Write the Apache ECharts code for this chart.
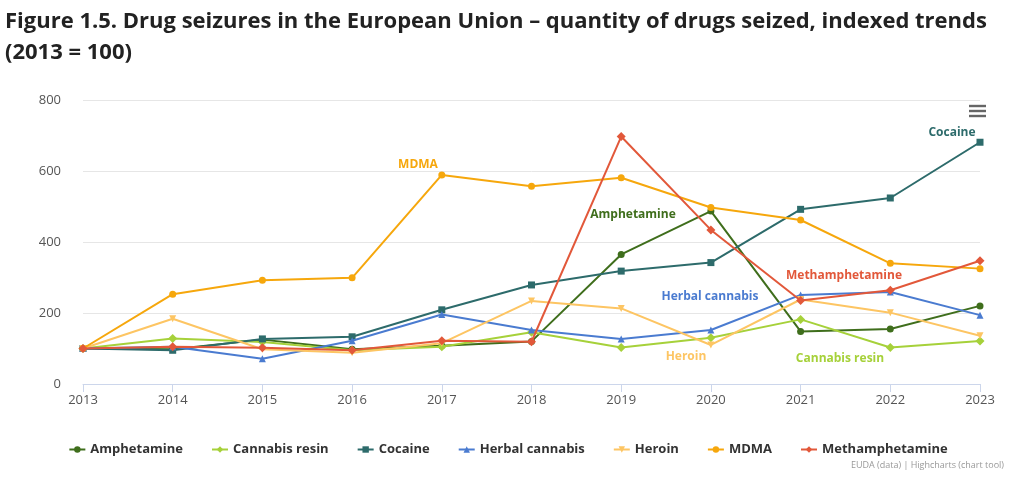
<!DOCTYPE html>
<html>
<head>
<meta charset="utf-8">
<script src="https://cdn.jsdelivr.net/npm/echarts@6/dist/echarts.min.js"></script>
<style>
html,body{margin:0;padding:0;background:#fff;}
#c{width:1016px;height:478px;}
</style>
</head>
<body>
<div id="c"></div>
<script>
var years = ['2013','2014','2015','2016','2017','2018','2019','2020','2021','2022','2023'];
var yTicks = [0, 200, 400, 600, 800];
var amphetamine = [100, 98, 125, 98, 108, 120, 365, 487, 148, 155, 220];
var cannabisResin = [100, 128, 118, 95, 105, 146, 103, 130, 182, 103, 121];
var cocaine = [100, 95, 127, 133, 209, 279, 318, 342, 492, 524, 681];
var herbalCannabis = [100, 105, 71, 122, 196, 152, 127, 152, 251, 259, 194];
var heroin = [100, 184, 98, 88, 115, 234, 213, 110, 238, 201, 136];
var mdma = [100, 253, 292, 299, 589, 557, 581, 497, 462, 340, 325];
var methamphetamine = [100, 105, 102, 95, 122, 119, 697, 434, 235, 264, 347];

var names = ['Amphetamine','Cannabis resin','Cocaine','Herbal cannabis','Heroin','MDMA','Methamphetamine'];
var seriesData = [amphetamine, cannabisResin, cocaine, herbalCannabis, heroin, mdma, methamphetamine];
var colors = ['#3f6e1c','#a6d13a','#2d6b6b','#4a7bd0','#fdc563','#f6a70c','#e2583a'];
var symbols = ['circle','diamond','rect','triangle','path://M0,0 L10,0 L5,10 Z','circle','diamond'];

var series = names.map(function(n, i){
  return {
    name: n, type: 'line', data: seriesData[i],
    symbol: symbols[i], symbolSize: (symbols[i]==='diamond'?9:7),
    lineStyle: {width: 2, color: colors[i]},
    itemStyle: {color: colors[i]},
    z: 2 + i
  };
});

var labels = [
  {t:'MDMA', x:418, y:165, c:'#f6a70c'},
  {t:'Amphetamine', x:633, y:215, c:'#3f6e1c'},
  {t:'Cocaine', x:952, y:133, c:'#2d6b6b'},
  {t:'Herbal cannabis', x:710, y:297, c:'#4a7bd0'},
  {t:'Heroin', x:686, y:357, c:'#fdc563'},
  {t:'Methamphetamine', x:844, y:276, c:'#e2583a'},
  {t:'Cannabis resin', x:840, y:359, c:'#a6d13a'}
];
var graphics = labels.map(function(l){
  return {type:'text', x:l.x, y:l.y, z:100, style:{text:l.t, fill:l.c, font:'bold 12px "Open Sans"', textAlign:'center', textVerticalAlign:'middle'}};
});
[106,111,116].forEach(function(yy){
  graphics.push({type:'rect', shape:{x:969, y:yy-1.2, width:17, height:2.4}, style:{fill:'#666'}, z:100});
});
graphics.push({type:'text', right:12, top:461, style:{text:'EUDA (data) | Highcharts (chart tool)', fill:'#999', font:'9px "Open Sans"'}});

var chart = echarts.init(document.getElementById('c'));
chart.setOption({
  animation: false,
  backgroundColor: '#fff',
  color: colors,
  title: {
    text: 'Figure 1.5. Drug seizures in the European Union – quantity of drugs seized, indexed trends\n(2013 = 100)',
    left: 0, top: 1,
    textStyle: {fontFamily: 'Open Sans', fontWeight: 'bold', fontSize: 22, color: '#222', lineHeight: 31}
  },
  grid: {left: 83, right: 36, top: 100, bottom: 94},
  legend: {
    bottom: 17, left: 'center',
    itemGap: 28, itemWidth: 16, itemHeight: 8,
    textStyle: {fontFamily: 'Open Sans', fontWeight: 'bold', fontSize: 13, color: '#333'},
    data: names
  },
  xAxis: {
    type: 'category', data: years, boundaryGap: false,
    axisLine: {lineStyle: {color: '#ccd6eb'}},
    axisTick: {show: true, length: 8, lineStyle: {color: '#ccd6eb'}},
    axisLabel: {color: '#555', fontSize: 13, fontFamily: 'Open Sans', margin: 10}
  },
  yAxis: {
    type: 'value', min: yTicks[0], max: yTicks[yTicks.length-1], interval: 200,
    axisLine: {show: false}, axisTick: {show: false},
    splitLine: {lineStyle: {color: '#e6e6e6'}},
    axisLabel: {color: '#555', fontSize: 13, fontFamily: 'Open Sans', margin: 22}
  },
  graphic: graphics,
  series: series
});
</script>
</body>
</html>
